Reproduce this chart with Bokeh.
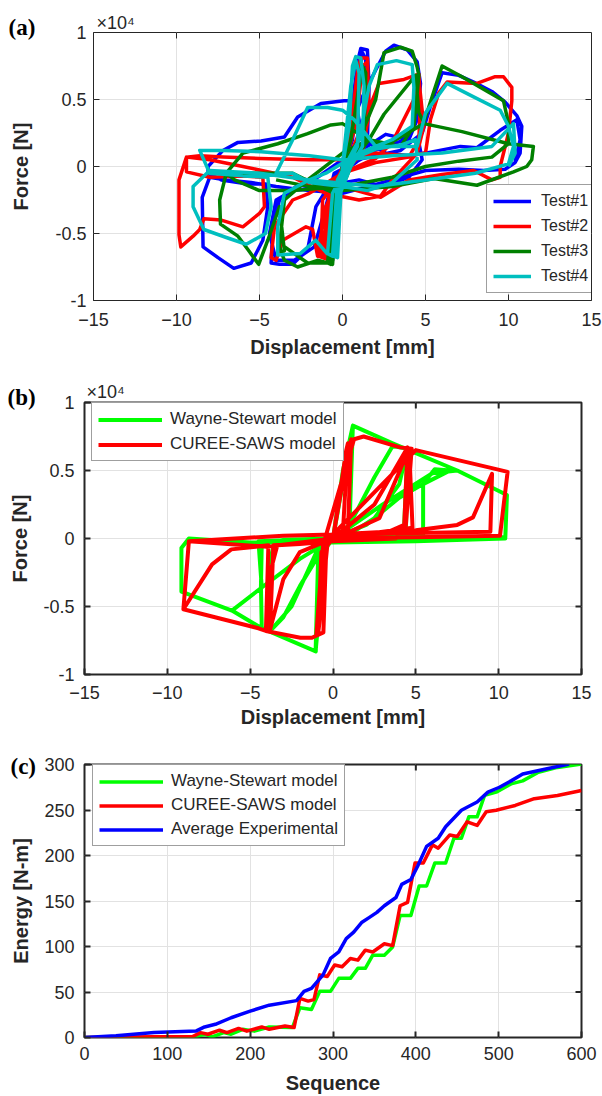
from bokeh.plotting import figure
from bokeh.models import Range1d, Legend, LegendItem, FixedTicker, Title
from bokeh.embed import file_html
from bokeh.resources import INLINE

# ---------------- data (displacement mm, force N) ----------------
test1 = [(0, 0), (0.5, 3500), (0.9, 7800), (1.1, 8800), (1.5, 8700), (1.6, 6000), (1.5, 2000), (1.0, 500), (0.0, -500),
         (-0.5, -2500), (-0.8, -6800), (-0.6, -7000), (-0.4, -3000), (0.0, -300), (0.6, 2000), (1.0, 6500), (1.2, 8500),
         (1.4, 8000), (1.3, 2000), (0.3, 200), (-0.6, -1500), (-0.9, -6500), (-0.6, -6900), (-0.3, -2000),
         (0.3, 2500), (1.2, 5200), (2.0, 7200), (2.6, 8600), (3.1, 9050), (3.9, 8700), (4.5, 7800), (4.7, 6200), (4.5, 3500),
         (4.0, 2000), (2.6, 2400), (1.5, 1500), (0.0, 500), (-1.5, -800), (-2.8, -1500), (-3.8, -2500), (-4.2, -4500),
         (-4.3, -7200), (-3.8, -7300), (-3.0, -7300), (-2.1, -6200), (-1.6, -3000), (-0.5, -800), (1.0, 800), (2.6, 1500),
         (3.8, 2000), (4.6, 1800), (4.8, 500), (4.0, -800), (2.5, -1500), (1.0, -1000), (-1.3, -1500), (-3.0, -1800),
         (-4.0, -2500), (-4.4, -5000), (-4.0, -7000), (-2.9, -7000), (-1.7, -6000), (-1.0, -3000),
         (-0.5, -500), (1.2, 600), (3.5, 1200), (4.8, 2500), (5.3, 4500), (6.0, 7000), (7.0, 6800), (7.9, 6300), (9.0, 5600),
         (9.8, 4800), (10.5, 3800), (10.8, 3000), (10.7, 1000), (10.4, 300), (9.8, -200), (8.5, -300), (7.0, -200), (5.0, -300),
         (3.0, -1000), (1.5, -1500), (0.0, -2000), (-2.0, -1800), (-4.0, -1500), (-5.5, -1200), (-7.0, -1000), (-8.0, -800),
         (-8.45, -2300), (-8.4, -6000), (-7.5, -6800), (-6.55, -7600), (-5.5, -7200), (-4.8, -5500), (-4.5, -3000),
         (-4.6, -1300), (-5.7, -1300), (-7.3, -1000), (-8.1, -500), (-8.1, 0), (-7.2, 1200), (-6.3, 1800), (-4.9, 1900),
         (-3.5, 2200), (-2.7, 3700), (-1.3, 4700), (0.1, 4900), (0.8, 4900), (1.2, 2000), (2.6, 1000), (4.0, 800), (5.0, 1000),
         (7.1, 1500), (8.1, 1400), (9.5, 2700), (10.5, 3500), (10.7, 2000), (10.4, 400)]

test2 = [(0, 0), (0.5, 3000), (0.9, 7000), (1.1, 8100), (1.5, 8100), (1.6, 4000), (1.2, 1000), (0, -500), (-0.7, -3000),
         (-1.4, -6700), (-1.0, -6900), (-0.7, -2500), (0, 0), (0.8, 3000), (1.2, 7500), (1.5, 7800), (1.3, 1500), (0, -300),
         (-1.0, -3000), (-1.5, -6500), (-1.2, -6800), (-0.8, -2000),
         (0.5, 1000), (1.5, 4000), (2.2, 6200), (3.7, 6500), (4.6, 6900), (4.7, 5000), (4.6, 2000), (4.0, 700), (2.0, 300),
         (0, -500), (-2.0, -2000), (-3.0, -2500), (-4.1, -4500), (-4.3, -6800), (-4.0, -7000), (-3.6, -5500), (-2.2, -4500),
         (-1.8, -4700), (-1.5, -6700), (-1.3, -6500), (-1.2, -2500), (0, -500), (2.0, 600), (3.0, 1800), (4.3, 5000),
         (4.6, 6500), (4.9, 3000), (4.5, 1000), (3.0, -1000), (2.3, -2200), (1.0, -2500), (-1.0, -2000),
         (-3.0, -800), (-6.0, 0), (-8.0, 500), (-9.4, 700), (-9.85, -1000), (-9.85, -5100), (-9.74, -6000), (-9.0, -5200),
         (-8.6, -4700), (-8.35, -3900), (-7.3, -4000), (-6.0, -4500), (-5.0, -3500), (-4.7, -3000), (-4.8, -800),
         (-6.0, -700), (-8.0, -800), (-9.4, -400), (-9.4, 700), (-8.6, 800), (-7.2, 700), (-5.0, 600), (-2.0, 500), (0, 500),
         (2.0, 1000), (4.0, 800), (5.0, 1000), (5.3, 3500), (5.8, 5500), (6.3, 6300), (8.1, 6200), (9.2, 6700), (9.7, 6700),
         (10.2, 5900), (10.2, 4900), (10.0, 2500), (9.5, 0), (9.5, -800), (9.0, -1000), (7.9, -300), (6.0, -600),
         (4.0, -1000), (2.3, -2300), (0, -1500), (-3.0, -800)]

test3 = [(0, 0), (0.5, 2000), (1.0, 6000), (1.2, 7500), (1.4, 7000), (1.3, 2000), (0.5, 0), (-0.5, -3000), (-0.8, -7200),
         (-0.6, -7300), (-0.3, -3000), (0, 0),
         (1.0, 2000), (2.0, 5000), (2.5, 8500), (3.5, 8900), (4.2, 8600), (4.5, 7400), (4.6, 6800), (4.3, 3000), (3.5, 1500),
         (1.6, 2000), (0, 1000), (-2.1, -1000), (-3.5, -2500), (-3.8, -6000), (-3.5, -7000), (-2.7, -7500), (-1.5, -7000),
         (-0.9, -7200), (-0.7, -7300), (-0.5, -3000), (0, -500),
         (1.6, 2000), (2.5, 3900), (4.4, 6800), (4.6, 4000), (4.9, 3300), (6.0, 7500), (7.2, 6700), (8.6, 5700), (9.7, 4900),
         (10.0, 3200), (10.0, 1700), (9.0, 700), (7.0, 400), (5.0, 0), (3.0, -800), (0, -1500), (-3.0, -1800), (-5.0, -1800),
         (-6.5, -1000), (-7.0, -500), (-7.4, -2500), (-7.35, -4300), (-6.3, -5200), (-5.7, -6200), (-5.05, -7300),
         (-4.5, -5500), (-3.8, -3000), (-3.5, -6300), (-3.48, -6000), (-2.1, -7200), (-0.9, -7200), (-0.5, -2000),
         (-3.0, -500), (-7.0, -500), (-6.0, 1000), (-3.9, 1700), (-2.1, 2450), (-0.7, 3100), (0, 3200), (1.6, 1960),
         (2.5, 1500), (4.9, 3200), (7.2, 2600), (10.0, 1700), (11.5, 1500), (11.4, 500), (11.1, 0), (10.3, -400),
         (8.1, -1400), (5.5, -900), (3.0, -1500), (0, -1800), (-2.0, -1500), (-4.0, -1000)]

test4 = [(0, 0), (0.4, 3000), (0.6, 7500), (0.8, 8200), (1.1, 8100), (1.3, 6000), (1.2, 1500), (0.5, 0), (-0.3, -2500),
         (-0.5, -6700), (-0.3, -6800), (-0.1, -2000), (0, 0), (0.5, 6000), (0.8, 7900), (1.0, 7000), (0.9, 1500),
         (-0.6, -2000), (-0.9, -6500), (-0.6, -6700), (-0.3, -1000),
         (1.0, 2000), (1.6, 6000), (2.1, 7600), (3.25, 7900), (4.2, 7600), (4.3, 5900), (4.2, 3000), (3.0, 2000), (1.0, 1000),
         (-1.0, -500), (-2.0, -1000), (-3.5, -2000), (-3.9, -4500), (-3.9, -6600), (-2.55, -6500), (-1.62, -5500),
         (-0.93, -6500), (-0.46, -6700), (-0.3, -2000), (0.5, 500), (2.0, 1300), (3.5, 1600), (4.4, 2000), (4.5, 500),
         (3.0, -1200), (1.5, -1800), (0, -1500), (-2.0, -1200), (-3.0, -500),
         (-4.0, -500), (-3.0, 2000), (-2.1, 4400), (-0.9, 4400), (0, 4200), (0.7, 3500), (2.0, 1500), (4.5, 1500),
         (5.0, 4000), (6.3, 6200), (7.9, 5200), (9.5, 4200), (10.0, 3000), (10.3, 1500), (10.0, 200), (8.0, -500),
         (5.0, -1000), (2.0, -1500), (-2.0, -1000), (-5.0, -500), (-8.0, -300), (-9.0, -1500), (-9.0, -3000),
         (-8.35, -4700), (-7.0, -5300), (-5.8, -5800), (-4.64, -5000), (-4.3, -3000), (-4.5, -800), (-6.0, -700),
         (-8.0, -500), (-8.6, 1200), (-7.2, 1200), (-4.9, 1100), (-2.0, 800), (0, 500), (3.0, 800), (6.0, 1000),
         (9.0, 1500), (10.3, 3200), (10.4, 1000), (10.0, 0)]

wayne = [(0, 0), (0.6, 5000), (1.2, 8300), (1.0, 1000), (0.2, 200), (-0.5, -300), (-0.8, -5000), (-1.05, -8300),
         (-0.9, -1500), (0, 0),
         (1.0, 1000), (2.5, 4500), (3.6, 6800), (4.5, 6600), (4.3, 1000), (3.5, 200), (0, 0), (-3.0, -100), (-4.3, -400),
         (-4.35, -3500), (-4.3, -6600), (-3.8, -6800), (-3.0, -5800), (-2.0, -3500), (-0.5, -500), (0, 0), (1.0, 300),
         (2.5, 1500), (4.0, 4000), (4.5, 6600), (4.4, 500), (3.0, 100), (0, 0), (-3.5, -200), (-3.9, -2000), (-3.8, -6800),
         (-2.5, -5000), (-1.0, -1000), (0, 0),
         (2.0, 1000), (4.0, 3000), (5.44, 4000), (6.14, 5100), (7.07, 5000), (5.44, 4000), (5.44, 300), (0, 0),
         (-4.5, -200), (-4.3, -3600), (-6.1, -5300), (-4.3, -3600), (-2.0, -1500), (0, 0),
         (3.0, 2500), (6.0, 4800), (7.5, 5000), (10.5, 3200), (10.4, 0), (5.0, -200), (0, -300), (-5.0, -300), (-8.7, 0),
         (-9.15, -700), (-9.15, -3900), (-6.1, -5300), (-4.3, -6600), (-1.04, -8300), (-0.8, -1000), (0, 0), (1.2, 8300),
         (3.6, 7000), (7.5, 5000), (10.5, 3200), (10.4, 100), (5.0, 100), (0, 0)]

curee = [(0, 0), (0.5, 4000), (0.8, 6500), (0.9, 7000), (0.6, 500), (0, 0), (-0.5, -500), (-0.7, -5000), (-0.9, -7000),
         (-0.7, -1000), (0, 0), (0.7, 5000), (1.1, 7300), (0.9, 500), (-0.3, 0), (-0.8, -6000), (-1.0, -7000), (-0.6, -500),
         (1.27, 7300), (1.85, 7500), (4.05, 6700), (4.75, 6600), (4.4, 1000), (3.8, 0), (0, -200), (-2.0, -400),
         (-3.36, -500), (-3.9, -3000), (-4.05, -6800), (-1.97, -7300), (-1.27, -7300), (-0.58, -6900), (-0.4, -500), (0, 0),
         (1.0, 1000), (2.5, 2500), (4.5, 6700), (4.3, 1000), (3.0, 300), (0, 0), (-2.0, -1000), (-3.0, -3000),
         (-3.8, -6700), (-3.6, -500), (-1.0, -300), (0, 0), (1.0, 500), (2.8, 1500), (4.6, 6600), (4.8, 800), (3.0, 500),
         (0, 0), (-4.0, -600), (-8.7, -200), (-9.03, -5200), (-4.5, -6600), (-4.05, -6800), (-3.9, -500), (-6.14, -800),
         (-7.3, -1900), (-9.03, -5200), (-8.7, -200), (-3.0, 200), (0, 300), (5.0, 600), (7.5, 1000), (8.45, 1550),
         (9.6, 4750), (9.5, 500), (5.0, 400), (0, 300), (5.0, 6500), (9.85, 5100), (10.54, 4900), (10.08, 200), (5.0, 100),
         (0, 0)]

# energy vs sequence
exp_seq = [0, 38, 84, 135, 145, 158, 177, 200, 223, 256, 265, 274, 288, 297, 307, 316, 325, 335, 344, 353, 362, 376,
           383, 394, 402, 413, 427, 436, 455, 474, 487, 501, 515, 529, 557, 585]
exp_energy = [0, 1.8, 5.4, 7.2, 11.6, 14.5, 21.7, 29, 35.5, 40.5, 50.7, 54, 68.8, 86.9, 94, 108.6, 115.8, 126.7, 132,
              137.5, 144.8, 153.8, 168.3, 173.7, 188, 210, 219, 231.6, 249.7, 258.8, 269.6, 275, 282, 289.5, 295, 300.4]
curee_seq = [0, 84, 130, 140, 149, 163, 172, 186, 196, 214, 223, 242, 253, 260, 270, 277, 284, 293, 302, 311, 321, 330,
             339, 348, 362, 372, 381, 390, 399, 409, 420, 427, 441, 450, 462, 474, 485, 497, 520, 543, 571, 600]
curee_energy = [0, 0.7, 0.7, 5.4, 3.6, 8, 5.4, 10, 7, 11.6, 9, 12.7, 10.9, 43, 40, 41.6, 68.8, 67, 79.6, 77.8, 86.9, 85,
                96, 94, 103, 101, 144.8, 148.4, 191.8, 191.8, 211.7, 208, 222.6, 220.8, 237, 233, 248, 249.7, 255, 262.4,
                266, 271.5]
wayne_seq = [0, 130, 145, 154, 168, 177, 191, 205, 223, 251, 260, 274, 284, 297, 307, 321, 330, 339, 348, 362, 372, 381,
             394, 404, 413, 423, 436, 446, 455, 464, 474, 483, 497, 515, 529, 548, 571, 600]
wayne_energy = [0, 0, 3.6, 0.7, 5.4, 3.6, 9, 7, 11.6, 10.9, 32.6, 30.8, 50.7, 50.7, 65, 65, 76, 76, 90.5, 90.5, 99.5,
                134, 134, 166.5, 166.5, 191.8, 191.8, 219, 219, 242.5, 242.5, 266, 269.6, 278.7, 282, 291.4, 296.8, 300.4]

disp_ticks = [-15, -10, -5, 0, 5, 10, 15]
force_ticks = [-10000, -5000, 0, 5000, 10000]
force_tick_labels = ["-1", "-0.5", "0", "0.5", "1"]
seq_ticks = [0, 100, 200, 300, 400, 500, 600]
energy_ticks = [0, 50, 100, 150, 200, 250, 300]

# ---------------- styling helpers ----------------
FONT = "Liberation Sans"
TXT = "#262626"
TICK_PX = 6


def make_fig(height, left, right, top, bottom, xr, yr, xticks, yticks, outline_w, ystand, xstand, xlab_stand,
             ylab_stand, xlabel, ylabel, yoverrides=None):
    p = figure(width=602, height=height, x_range=Range1d(*xr), y_range=Range1d(*yr),
               output_backend="svg", toolbar_location=None,
               min_border_left=left, min_border_right=right, min_border_top=top, min_border_bottom=bottom)
    p.background_fill_color = "white"
    p.border_fill_color = "white"
    p.outline_line_color = TXT
    p.outline_line_width = outline_w
    for ax in (p.xaxis[0], p.yaxis[0]):
        ax.axis_line_color = None
        ax.major_tick_in = TICK_PX
        ax.major_tick_out = 0
        ax.minor_tick_line_color = None
        ax.major_tick_line_color = TXT
        ax.major_tick_line_width = outline_w
        ax.major_label_text_font = FONT
        ax.major_label_text_font_size = "18px"
        ax.major_label_text_color = TXT
        ax.axis_label_text_font = FONT
        ax.axis_label_text_font_size = "20px"
        ax.axis_label_text_font_style = "bold"
        ax.axis_label_text_color = TXT
    p.xaxis.ticker = FixedTicker(ticks=xticks)
    p.yaxis.ticker = FixedTicker(ticks=yticks)
    p.xaxis.major_label_standoff = xstand
    p.yaxis.major_label_standoff = ystand
    p.xaxis.axis_label_standoff = xlab_stand
    p.yaxis.axis_label_standoff = ylab_stand
    p.xaxis.axis_label = xlabel
    p.yaxis.axis_label = ylabel
    if yoverrides:
        p.yaxis.major_label_overrides = yoverrides
    p.xgrid.ticker = FixedTicker(ticks=xticks)
    p.ygrid.ticker = FixedTicker(ticks=yticks)
    p.grid.grid_line_color = "#e2e2e2"
    p.grid.grid_line_width = 1
    # inward ticks on the top and right edges of the box
    fw = 602 - left - right
    fh = height - top - bottom
    dy = TICK_PX * (yr[1] - yr[0]) / fh
    dx = TICK_PX * (xr[1] - xr[0]) / fw
    inner_x = [t for t in xticks if xr[0] < t < xr[1]]
    inner_y = [t for t in yticks if yr[0] < t < yr[1]]
    p.segment(x0=inner_x, x1=inner_x, y0=[yr[1]] * len(inner_x), y1=[yr[1] - dy] * len(inner_x),
              line_color=TXT, line_width=outline_w)
    p.segment(x0=[xr[1]] * len(inner_y), x1=[xr[1] - dx] * len(inner_y), y0=inner_y, y1=inner_y,
              line_color=TXT, line_width=outline_w)
    return p


def add_corner_texts(p, tag, tag_offset, tag_standoff, exp_offset, exp_standoff):
    p.add_layout(Title(text=tag, align="left", offset=tag_offset, standoff=tag_standoff, text_font="Liberation Serif",
                       text_font_style="bold", text_font_size="23px", text_color="black"), "above")
    if exp_offset is not None:
        p.add_layout(Title(text="\u00d710\u2074", align="left", offset=exp_offset, standoff=exp_standoff,
                           text_font=FONT, text_font_style="normal", text_font_size="18px", text_color=TXT), "above")


yover = dict(zip(force_ticks, force_tick_labels))

# ---------------- panel (a) ----------------
pa = make_fig(360, 93, 11, 32, 59, (-15, 15), (-10000, 10000), disp_ticks, force_ticks, 1,
              7, 12, 7, 20, "Displacement [mm]", "Force [N]", yover)
cols_a = ["#0000ff", "#ff0000", "#008000", "#00bfbf"]
rend_a = []
for pts, c in zip([test1, test2, test3, test4], cols_a):
    xs, fs = zip(*pts)
    rend_a.append(pa.line(list(xs), list(fs), line_color=c, line_width=3.5, line_join="round"))
leg_a = Legend(items=[LegendItem(label="Test#%d" % (i + 1), renderers=[r]) for i, r in enumerate(rend_a)],
               location=(393, 7), orientation="vertical")
pa.add_layout(leg_a, "center")
add_corner_texts(pa, "(a)", -85, -14, 3, -26)

# ---------------- panel (b) ----------------
pb = make_fig(370, 84, 21, 42, 56, (-15, 15), (-10000, 10000), disp_ticks, force_ticks, 2,
              10, 11, 4, 9, "Displacement [mm]", "Force [N]", yover)
xs, fs = zip(*wayne)
rw = pb.line(list(xs), list(fs), line_color="#00ff00", line_width=4, line_join="round")
xs, fs = zip(*curee)
rc = pb.line(list(xs), list(fs), line_color="#ff0000", line_width=4, line_join="round")
leg_b = Legend(items=[LegendItem(label="Wayne-Stewart model", renderers=[rw]),
                      LegendItem(label="CUREE-SAWS model", renderers=[rc])], location=(7, 213))
pb.add_layout(leg_b, "center")
add_corner_texts(pb, "(b)", -77, -14, 2, -24)

# ---------------- panel (c) ----------------
pc = make_fig(366, 84, 21, 34, 57, (0, 600), (0, 300), seq_ticks, energy_ticks, 2,
              10, 9, 9, 9, "Sequence", "Energy [N-m]")
r1 = pc.line(wayne_seq, wayne_energy, line_color="#00ff00", line_width=3.5, line_join="round")
r2 = pc.line(curee_seq, curee_energy, line_color="#ff0000", line_width=3.5, line_join="round")
r3 = pc.line(exp_seq, exp_energy, line_color="#0000ff", line_width=3.5, line_join="round")
leg_c = Legend(items=[LegendItem(label="Wayne-Stewart model", renderers=[r1]),
                      LegendItem(label="CUREE-SAWS model", renderers=[r2]),
                      LegendItem(label="Average Experimental", renderers=[r3])], location=(8, 191))
pc.add_layout(leg_c, "center")
add_corner_texts(pc, "(c)", -74, -28, None, None)

for lg, gw, st, pad, h, sp, fs_ in ((leg_a, 38, 10, 6, 20, 5, "16px"), (leg_b, 64, 8, 6, 19, 5, "17px"),
                                    (leg_c, 64, 8, 6, 19, 4, "17px")):
    lg.glyph_width = gw
    lg.glyph_height = h
    lg.label_height = h
    lg.label_standoff = st
    lg.padding = pad
    lg.spacing = sp
    lg.margin = 0
    lg.label_text_font = FONT
    lg.label_text_font_size = fs_
    lg.label_text_color = TXT
    lg.border_line_color = "#404040"
    lg.border_line_width = 1.5
    lg.background_fill_color = "white"
    lg.background_fill_alpha = 1

# three separate roots stacked on the page, so each keeps its own frame position
open("out.html", "w").write(file_html((pa, pb, pc), INLINE))
